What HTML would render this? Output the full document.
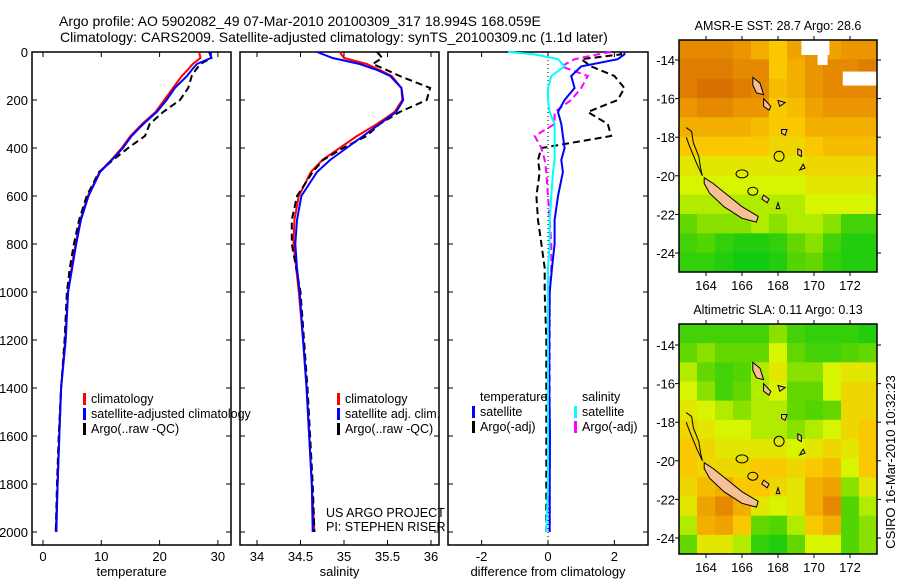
<!DOCTYPE html>
<html><head><meta charset="utf-8">
<style>
body{margin:0;background:#fff;}
svg text{font-family:"Liberation Sans",sans-serif;fill:#000;}
</style></head>
<body>
<svg id="fig" width="900" height="580" viewBox="0 0 900 580" xmlns="http://www.w3.org/2000/svg">
<text x="59" y="26" font-size="14">Argo profile: AO 5902082_49 07-Mar-2010 20100309_317 18.994S 168.059E</text>
<text x="60" y="42" font-size="14">Climatology: CARS2009. Satellite-adjusted climatology: synTS_20100309.nc (1.1d later)</text>
<g id="g1"></g>
<g id="g2"></g>
<g id="g3"></g>
<g id="m1"></g>
<g id="m2"></g>
<text transform="translate(895,462) rotate(-90)" text-anchor="middle" font-size="13">CSIRO 16-Mar-2010 10:32:23</text>
</svg>
<script>
// ---- data ----
const depths = [0,25,50,75,100,150,200,250,300,350,400,450,500,600,700,800,900,1000,1200,1400,1600,1800,2000];
const tempClim = [26.8,27,25.7,24.8,23.8,22.3,20.8,19.3,17.0,15.0,13.5,11.7,9.7,7.7,6.4,5.6,4.9,4.3,3.8,3.1,2.8,2.5,2.2];
const tempSat  = [28.8,28.8,26.4,25.5,24.7,22.6,21.2,19.5,17.2,15.2,13.7,11.8,9.8,7.8,6.5,5.7,5.0,4.3,3.9,3.1,2.8,2.5,2.3];
const tempArgo = [28.5,28.9,27.0,26.2,25.5,24.9,23.5,20.6,18.3,17.5,14.6,12.0,9.6,7.5,6.2,5.3,4.6,4.1,3.7,3.1,2.7,2.4,2.2];
const salClim = [34.95,35.0,35.26,35.41,35.55,35.66,35.67,35.58,35.38,35.15,34.95,34.75,34.62,34.48,34.43,34.42,34.45,34.48,34.53,34.57,34.6,34.63,34.66];
const salSat  = [34.69,34.87,35.18,35.38,35.53,35.66,35.68,35.6,35.41,35.22,35.03,34.84,34.69,34.51,34.46,34.44,34.46,34.49,34.53,34.57,34.6,34.63,34.64];
const salArgo = [35.38,35.44,35.33,35.49,35.64,35.99,35.95,35.64,35.41,35.26,34.99,34.76,34.64,34.46,34.4,34.4,34.45,34.5,34.54,34.58,34.61,34.64,34.66];
const diffDepths = [0,10,30,60,100,150,200,250,300,350,400,450,500,600,700,800,900,1000,1200,1400,1600,1800,2000];
const dTempSat  = [2.3,2.3,2.1,1.0,0.7,0.8,0.5,0.3,0.4,0.45,0.5,0.4,0.45,0.3,0.2,0.2,0.12,0.05,0.04,0.04,0.06,0.05,0.05];
const dTempArgo = [2.2,2.2,1.0,1.3,2.0,2.3,2.1,1.2,1.8,1.9,-0.2,-0.3,-0.25,-0.35,-0.3,-0.2,-0.1,-0.1,-0.05,-0.05,-0.05,-0.05,-0.05];
const dSalSat   = [-1.2,-0.4,0.3,0.5,0.1,0.0,0.0,0.05,0.2,0.2,0.2,0.2,0.15,0.1,0.05,0.05,0.0,0.0,0.0,0.0,0.0,0.0,-0.05];
const dSalArgo  = [1.9,1.5,0.8,0.4,1.2,1.0,0.7,0.2,0.2,-0.4,-0.2,-0.1,-0.05,0.0,0.05,0.1,0.1,0.05,0.05,0.05,0.05,0.05,0.05];
const depthTicks = [0,200,400,600,800,1000,1200,1400,1600,1800,2000];
const tempTicks = [0,10,20,30];
const salTicks = [34,34.5,35,35.5,36];
const salTickLabels = ["34","34.5","35","35.5","36"];
const diffTicks = [-2,0,2];
const lonTicks = [164,166,168,170,172];
const latTicks = [-14,-16,-18,-20,-22,-24];
const sstGrid = [
[.85,.85,.85,.8,.7,.6,.75,.8,.75,.8,.8],
[.9,.9,.9,.85,.85,.6,.7,.8,.85,.85,.9],
[.9,.95,.95,.9,.85,.65,.7,.8,.85,.85,.85],
[.8,.85,.85,.8,.8,.6,.65,.75,.8,.8,.8],
[.7,.7,.7,.7,.65,.6,.6,.7,.7,.7,.7],
[.6,.6,.6,.6,.6,.55,.55,.6,.65,.65,.65],
[.5,.5,.5,.5,.5,.5,.5,.55,.55,.55,.55],
[.45,.45,.45,.45,.45,.45,.45,.5,.5,.5,.5],
[.4,.4,.4,.4,.4,.4,.4,.45,.45,.45,.45],
[.3,.35,.35,.35,.4,.35,.4,.4,.35,.2,.2],
[.2,.25,.15,.1,.1,.15,.3,.35,.2,.1,.1],
[.15,.15,.1,.05,.05,.1,.25,.3,.15,.1,.1]];
const slaGrid = [
[.2,.2,.2,.2,.2,.35,.2,.15,.15,.15,.1],
[.3,.35,.3,.3,.3,.45,.3,.2,.2,.25,.3],
[.4,.3,.2,.25,.4,.5,.35,.35,.45,.5,.5],
[.45,.35,.2,.3,.4,.45,.3,.3,.45,.55,.55],
[.5,.45,.4,.35,.4,.4,.3,.25,.3,.55,.55],
[.55,.5,.45,.45,.4,.4,.35,.4,.45,.55,.6],
[.6,.55,.5,.5,.5,.5,.45,.5,.55,.5,.6],
[.6,.55,.55,.55,.6,.6,.55,.6,.65,.45,.6],
[.55,.65,.7,.6,.6,.55,.5,.7,.75,.35,.5],
[.5,.75,.85,.7,.5,.45,.5,.7,.85,.25,.4],
[.4,.7,.75,.6,.3,.25,.4,.6,.7,.25,.35],
[.3,.5,.5,.4,.15,.1,.3,.45,.45,.25,.35]];

const NS="http://www.w3.org/2000/svg";
function mk(parent,tag,attrs){const e=document.createElementNS(NS,tag);for(const k in attrs)e.setAttribute(k,attrs[k]);parent.appendChild(e);return e;}
function txt(parent,x,y,s,size,anchor){const t=mk(parent,'text',{x:x,y:y,'font-size':size||12,'text-anchor':anchor||'start'});t.textContent=s;return t;}

function profilePanel(g,x0,x1,y0,y1,xs,ticks,tickLabels,xlabel,series,showDepthLabels){
  const ys=d=>52+d*0.24;
  const fr=mk(g,'rect',{x:x0,y:y0,width:x1-x0,height:y1-y0,fill:'none',stroke:'#000','stroke-width':1.5});
  
  
  depthTicks.forEach(d=>{
    mk(g,'line',{x1:x0,x2:x0+5,y1:ys(d),y2:ys(d),stroke:'#000'});
    mk(g,'line',{x1:x1,x2:x1-5,y1:ys(d),y2:ys(d),stroke:'#000'});
    if(showDepthLabels){const t=txt(g,x0-4,ys(d)+5,String(d),13,'end');
      
      }
  });
  ticks.forEach((v,i)=>{
    mk(g,'line',{x1:xs(v),x2:xs(v),y1:y1,y2:y1-5,stroke:'#000'});
    mk(g,'line',{x1:xs(v),x2:xs(v),y1:y0,y2:y0+5,stroke:'#000'});
    const t=txt(g,xs(v),y1+16,tickLabels[i],13,'middle');
    
    
  });
  const xl=txt(g,(x0+x1)/2,y1+31,xlabel,13,'middle');
  
  
  series.forEach(s=>{
    const pts=s.v.map((v,i)=>xs(v).toFixed(1)+','+ys(s.d[i]).toFixed(1)).join(' ');
    const p=mk(g,'polyline',{points:pts,fill:'none',stroke:s.c,'stroke-width':2});
    if(s.dash)p.setAttribute('stroke-dasharray','7,4');
    
    
  });
}
function legend(g,x,y,items){
  items.forEach((it,i)=>{
    if(it.c) mk(g,'rect',{x:x,y:y+i*15-10,width:3,height:12,fill:it.c});
    const t=txt(g,x+(it.c?8:8),y+i*15,it.t,12.5);
    
    
  });
}
const tx=v=>43+v*5.83;
const sx=v=>257+(v-34)*87;
const dx=v=>548+v*33.2;
const g1=document.getElementById('g1'),g2=document.getElementById('g2'),g3=document.getElementById('g3');
profilePanel(g1,32,231,52,545,tx,tempTicks,tempTicks.map(String),'temperature',[
 {v:tempClim,d:depths,c:'#f00',name:'temp-climatology-line'},
 {v:tempArgo,d:depths,c:'#000',dash:1,name:'temp-argo-line'},
 {v:tempSat,d:depths,c:'#00f',name:'temp-satellite-line'}],true);
legend(g1,83,403,[{c:'#f00',t:'climatology'},{c:'#00f',t:'satellite-adjusted climatology'},{c:'#000',t:'Argo(..raw -QC)'}]);
profilePanel(g2,240,439,52,545,sx,salTicks,salTickLabels,'salinity',[
 {v:salClim,d:depths,c:'#f00',name:'sal-climatology-line'},
 {v:salArgo,d:depths,c:'#000',dash:1,name:'sal-argo-line'},
 {v:salSat,d:depths,c:'#00f',name:'sal-satellite-line'}],false);
legend(g2,337,403,[{c:'#f00',t:'climatology'},{c:'#00f',t:'satellite adj. clim.'},{c:'#000',t:'Argo(..raw -QC)'}]);
txt(g2,326,517,'US ARGO PROJECT',12.5);
txt(g2,326,531,'PI: STEPHEN RISER',12.5);
mk(g3,'line',{x1:dx(0),x2:dx(0),y1:52,y2:545,stroke:'#000','stroke-dasharray':'1,3'});
profilePanel(g3,448,648,52,545,dx,diffTicks,diffTicks.map(String),'difference from climatology',[
 {v:dTempArgo,d:diffDepths,c:'#000',dash:1,name:'temp-argo-diff-line'},
 {v:dSalArgo,d:diffDepths,c:'#f0f',dash:1,name:'sal-argo-diff-line'},
 {v:dTempSat,d:diffDepths,c:'#00f',name:'temp-satellite-diff-line'},
 {v:dSalSat,d:diffDepths,c:'#0ff',name:'sal-satellite-diff-line'}],false);
legend(g3,472,401,[{t:'temperature'},{c:'#00f',t:'satellite'},{c:'#000',t:'Argo(-adj)'}]);
legend(g3,574,401,[{t:'salinity'},{c:'#0ff',t:'satellite'},{c:'#f0f',t:'Argo(-adj)'}]);

function sstColor(v){
  const stops=[[0,[0,200,20]],[0.3,[100,215,0]],[0.45,[215,245,0]],[0.6,[250,200,0]],[0.8,[235,150,0]],[1,[210,100,0]]];
  for(let i=1;i<stops.length;i++){if(v<=stops[i][0]){const a=stops[i-1],b=stops[i],f=(v-a[0])/(b[0]-a[0]);
    return 'rgb('+a[1].map((c,j)=>Math.round(c+(b[1][j]-c)*f)).join(',')+')';}}
  return 'rgb(210,100,0)';
}
function mapPanel(id,title,grid,x0,x1,y0,y1,latTop,isSst){
  const g=document.getElementById(id);
  const lonX=l=>706+(l-164)*18;
  const latY=l=>latTop+(-14-l)*((y1-y0)===232?19.3:19.3);
  const nr=grid.length,nc=grid[0].length,cw=(x1-x0)/nc,ch=(y1-y0)/nr;
  grid.forEach((row,r)=>row.forEach((v,c)=>{
    const cell=mk(g,'rect',{x:x0+c*cw,y:y0+r*ch,width:cw+0.5,height:ch+0.5,fill:sstColor(v)});
    
    
  }));
  if(isSst){
    mk(g,'rect',{x:lonX(169.3),y:y0,width:28,height:15,fill:'#fff'});
    mk(g,'rect',{x:lonX(170.2),y:y0+15,width:10,height:10,fill:'#fff'});
    mk(g,'rect',{x:lonX(171.6),y:latY(-14.6),width:x1-lonX(171.6),height:14,fill:'#fff'});
  }
  const land=[[[163.9,-20.1],[164.4,-20.4],[165.2,-21.0],[166,-21.6],[166.9,-22.1],[166.8,-22.4],[166.0,-22.2],[165.0,-21.6],[164.2,-20.9],[163.9,-20.4]],
   [[166.6,-14.9],[167.0,-15.2],[167.2,-15.8],[166.8,-15.7],[166.6,-15.3]],
   [[167.2,-16.0],[167.6,-16.4],[167.5,-16.6],[167.2,-16.4]],
   [[168.0,-16.1],[168.4,-16.2],[168.1,-16.4]],
   [[168.2,-17.6],[168.5,-17.6],[168.4,-17.9],[168.2,-17.8]],
   [[169.1,-18.6],[169.3,-18.7],[169.3,-19.0],[169.1,-18.9]],
   [[169.4,-19.4],[169.5,-19.6],[169.2,-19.7]],
   [[167.2,-21.0],[167.5,-21.2],[167.4,-21.4],[167.1,-21.2]],
   [[168.0,-21.4],[168.1,-21.7],[167.9,-21.7]]];
  land.forEach(poly=>{
    const p=mk(g,'polygon',{points:poly.map(q=>lonX(q[0]).toFixed(1)+','+latY(q[1]).toFixed(1)).join(' '),fill:'#f6bf94',stroke:'#000','stroke-width':1});
    
    
  });
  const reef=[[162.9,-17.5],[163.2,-17.7],[163.3,-18.3],[163.6,-19.0],[163.7,-19.6],[163.8,-20.0],[163.5,-19.4],[163.1,-18.5],[162.9,-18.0]];
  mk(g,'polyline',{points:reef.map(q=>lonX(q[0])+','+latY(q[1])).join(' '),fill:'none',stroke:'#000'});
  mk(g,'ellipse',{cx:lonX(166.0),cy:latY(-19.9),rx:6,ry:4,fill:'none',stroke:'#000'});
  mk(g,'ellipse',{cx:lonX(166.6),cy:latY(-20.8),rx:5,ry:4,fill:'none',stroke:'#000'});
  const pos=mk(g,'circle',{cx:lonX(168.06),cy:latY(-18.99),r:5,fill:'none',stroke:'#000'});
  
  
  mk(g,'rect',{x:x0,y:y0,width:x1-x0,height:y1-y0,fill:'none',stroke:'#000','stroke-width':1.5});
  lonTicks.forEach(l=>{
    mk(g,'line',{x1:lonX(l),x2:lonX(l),y1:y1,y2:y1+4,stroke:'#000'});
    mk(g,'line',{x1:lonX(l),x2:lonX(l),y1:y0,y2:y0-4,stroke:'#000'});
    const t=txt(g,lonX(l),y1+18,String(l),13,'middle');
    
    
  });
  latTicks.forEach(l=>{
    mk(g,'line',{x1:x0,x2:x0-4,y1:latY(l),y2:latY(l),stroke:'#000'});
    mk(g,'line',{x1:x1,x2:x1+4,y1:latY(l),y2:latY(l),stroke:'#000'});
    const t=txt(g,x0-4,latY(l)+5,String(l),13,'end');
    
    
  });
  const tt=txt(g,(x0+x1)/2,y0-10,title,12.5,'middle');
  
  
}
mapPanel('m1','AMSR-E SST: 28.7 Argo: 28.6',sstGrid,679,877,40,272,60,true);
mapPanel('m2','Altimetric SLA: 0.11 Argo: 0.13',slaGrid,679,877,324,554,345,false);
</script>
</body></html>
